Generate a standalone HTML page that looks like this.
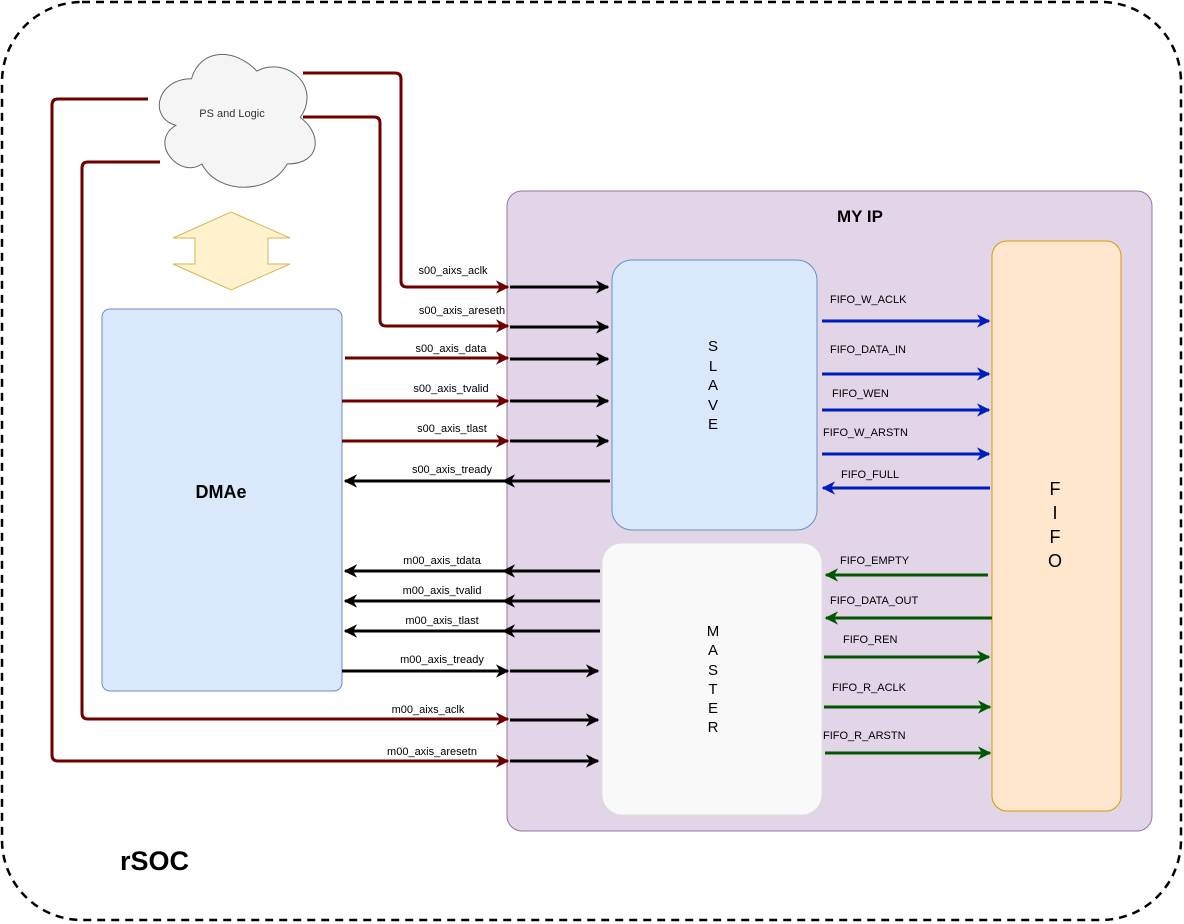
<!DOCTYPE html>
<html><head><meta charset="utf-8"><style>
html,body{margin:0;padding:0;background:#fff;}
svg{display:block;font-family:"Liberation Sans",Arial,sans-serif;}
</style></head><body>
<svg width="1184" height="924" viewBox="0 0 1184 924" xmlns="http://www.w3.org/2000/svg">
<defs>
<marker id="ak" viewBox="0 0 10 10" refX="9" refY="5" markerWidth="4.5" markerHeight="4.5" orient="auto"><path d="M0,0 L10,5 L0,10 L3,5 Z" fill="#000"/></marker>
<marker id="ar" viewBox="0 0 10 10" refX="9" refY="5" markerWidth="4.5" markerHeight="4.5" orient="auto"><path d="M0,0 L10,5 L0,10 L3,5 Z" fill="#6f0000"/></marker>
<marker id="ab" viewBox="0 0 10 10" refX="9" refY="5" markerWidth="4.5" markerHeight="4.5" orient="auto"><path d="M0,0 L10,5 L0,10 L3,5 Z" fill="#001dbc"/></marker>
<marker id="ag" viewBox="0 0 10 10" refX="9" refY="5" markerWidth="4.5" markerHeight="4.5" orient="auto"><path d="M0,0 L10,5 L0,10 L3,5 Z" fill="#005700"/></marker>
</defs>
<rect x="2" y="2" width="1179" height="918" rx="80" fill="#fff" stroke="#000" stroke-width="2.5" stroke-dasharray="8,6"/>
<text x="120" y="870" font-size="27" font-weight="bold">rSOC</text>

<rect x="507" y="191" width="645" height="640" rx="15" fill="#e1d5e7" stroke="#9673a6"/>
<text x="860" y="222" font-size="17" font-weight="bold" text-anchor="middle">MY IP</text>

<rect x="612" y="260" width="205" height="270" rx="20" fill="#dae8fc" stroke="#6c8ebf"/>
<g font-size="15" text-anchor="middle">
<text x="713" y="351">S</text><text x="713" y="371">L</text><text x="713" y="390">A</text><text x="713" y="410">V</text><text x="713" y="429">E</text>
</g>
<rect x="602" y="543" width="220" height="272" rx="20" fill="#f9f9f9" stroke="#ddd"/>
<g font-size="15" text-anchor="middle">
<text x="713" y="636">M</text><text x="713" y="655">A</text><text x="713" y="675">S</text><text x="713" y="694">T</text><text x="713" y="713">E</text><text x="713" y="732">R</text>
</g>
<rect x="992" y="241" width="129" height="570" rx="15" fill="#ffe6cc" stroke="#d79b00"/>
<g font-size="18" text-anchor="middle">
<text x="1055" y="495">F</text><text x="1055" y="519">I</text><text x="1055" y="543">F</text><text x="1055" y="567">O</text>
</g>

<rect x="102" y="309" width="240" height="382" rx="8" fill="#dae8fc" stroke="#6c8ebf"/>
<text x="221" y="498" font-size="18" font-weight="bold" text-anchor="middle">DMAe</text>

<path d="M191.5,78.8 C156.7,78.8 148,117.5 175.8,125.3 C148,142.3 179.3,179.5 201.9,164 C217.6,195 269.8,195 287.2,164 C322,164 322,133 300.25,117.5 C322,86.5 287.2,55.5 256.75,71 C235,47.75 200.2,47.75 191.5,78.8 Z" fill="#f5f5f5" stroke="#666"/>
<text x="232" y="117" font-size="11" fill="#333" text-anchor="middle">PS and Logic</text>

<polygon points="231,212 290,238 268,238 268,264 290,264 231,290 173,264 195,264 195,238 173,238" fill="#fff2cc" stroke="#d6b656"/>

<g fill="none" stroke="#6f0000" stroke-width="3">
<path d="M303,73 H395 Q401,73 401,79 V281 Q401,287 407,287 H508" marker-end="url(#ar)"/>
<path d="M303,117 H374 Q380,117 380,123 V320 Q380,326 386,326 H508" marker-end="url(#ar)"/>
<path d="M148,99 H58 Q52,99 52,105 V755 Q52,761 58,761 H508" marker-end="url(#ar)"/>
<path d="M160,162 H88 Q82,162 82,168 V713 Q82,719 88,719 H508" marker-end="url(#ar)"/>
<path d="M345,358 H508" marker-end="url(#ar)"/>
<path d="M342,401 H508" marker-end="url(#ar)"/>
<path d="M342,441 H508" marker-end="url(#ar)"/>
</g>
<g fill="none" stroke="#000" stroke-width="3">
<path d="M510,287 H608" marker-end="url(#ak)"/>
<path d="M510,327 H608" marker-end="url(#ak)"/>
<path d="M510,359 H608" marker-end="url(#ak)"/>
<path d="M510,401 H608" marker-end="url(#ak)"/>
<path d="M510,441 H608" marker-end="url(#ak)"/>
<path d="M610,481 H503" marker-end="url(#ak)"/>
<path d="M503,481 H345" marker-end="url(#ak)"/>
<path d="M600,571 H503" marker-end="url(#ak)"/>
<path d="M503,571 H345" marker-end="url(#ak)"/>
<path d="M600,601 H503" marker-end="url(#ak)"/>
<path d="M503,601 H345" marker-end="url(#ak)"/>
<path d="M600,631 H503" marker-end="url(#ak)"/>
<path d="M503,631 H345" marker-end="url(#ak)"/>
<path d="M342,671 H508" marker-end="url(#ak)"/>
<path d="M510,671 H598" marker-end="url(#ak)"/>
<path d="M510,720 H598" marker-end="url(#ak)"/>
<path d="M510,761 H598" marker-end="url(#ak)"/>
</g>
<g font-size="11" text-anchor="middle">
<text x="453" y="274">s00_aixs_aclk</text>
<text x="462" y="314">s00_axis_areseth</text>
<text x="451" y="352">s00_axis_data</text>
<text x="451" y="392">s00_axis_tvalid</text>
<text x="452" y="432">s00_axis_tlast</text>
<text x="452" y="473">s00_axis_tready</text>
<text x="442" y="564">m00_axis_tdata</text>
<text x="442" y="594">m00_axis_tvalid</text>
<text x="442" y="624">m00_axis_tlast</text>
<text x="442" y="663">m00_axis_tready</text>
<text x="428" y="713">m00_aixs_aclk</text>
<text x="432" y="755">m00_axis_aresetn</text>
</g>
<g fill="none" stroke="#001dbc" stroke-width="3">
<path d="M822,321 H989" marker-end="url(#ab)"/>
<path d="M822,374 H989" marker-end="url(#ab)"/>
<path d="M822,410 H989" marker-end="url(#ab)"/>
<path d="M822,454 H989" marker-end="url(#ab)"/>
<path d="M990,488 H823" marker-end="url(#ab)"/>
</g>
<g fill="none" stroke="#005700" stroke-width="3">
<path d="M988,575 H826" marker-end="url(#ag)"/>
<path d="M992,618 H826" marker-end="url(#ag)"/>
<path d="M824,657 H989" marker-end="url(#ag)"/>
<path d="M824,707 H990" marker-end="url(#ag)"/>
<path d="M825,753 H990" marker-end="url(#ag)"/>
</g>
<g font-size="11">
<text x="830" y="303">FIFO_W_ACLK</text>
<text x="830" y="353">FIFO_DATA_IN</text>
<text x="832" y="397">FIFO_WEN</text>
<text x="823" y="436">FIFO_W_ARSTN</text>
<text x="841" y="478">FIFO_FULL</text>
<text x="840" y="564">FIFO_EMPTY</text>
<text x="830" y="604">FIFO_DATA_OUT</text>
<text x="843" y="643">FIFO_REN</text>
<text x="832" y="691">FIFO_R_ACLK</text>
<text x="823" y="739">FIFO_R_ARSTN</text>
</g>
</svg>
</body></html>
